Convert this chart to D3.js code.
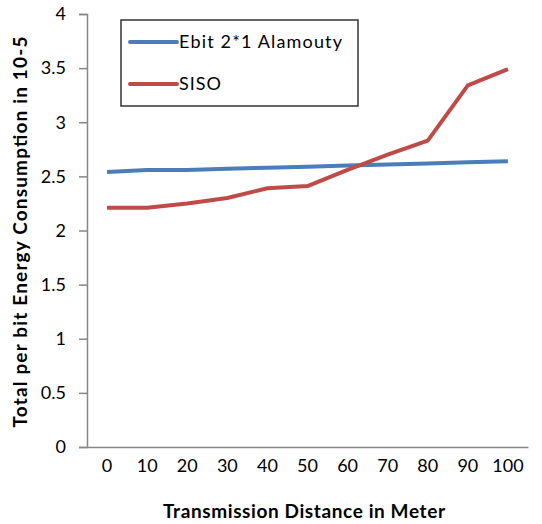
<!DOCTYPE html>
<html>
<head>
<meta charset="utf-8">
<script src="https://cdn.jsdelivr.net/npm/d3@7"></script>
<style>
  body { margin: 0; background: #fff; }
  svg text { font-family: Lato, "Open Sans", sans-serif; fill: #000; }
</style>
</head>
<body>
<svg id="viz" width="542" height="524"></svg>
<script>
// chart data
var distances = ['0', '10', '20', '30', '40', '50', '60', '70', '80', '90', '100'];
var alamoutyVals = [2.54, 2.56, 2.56, 2.57, 2.58, 2.59, 2.60, 2.61, 2.62, 2.63, 2.64];
var sisoVals = [2.21, 2.21, 2.25, 2.30, 2.39, 2.41, 2.56, 2.70, 2.83, 3.34, 3.49];
var yTicks = [0, 0.5, 1, 1.5, 2, 2.5, 3, 3.5, 4];
var seriesNames = ['Ebit 2*1 Alamouty', 'SISO'];
var seriesColors = ['#4a7ebb', '#be4b48'];

var svg = d3.select('#viz');
var plotLeft = 87, plotRight = 528, plotTop = 14, plotBottom = 447;

var x = d3.scaleBand().domain(distances).range([plotLeft, plotRight]);
var y = d3.scaleLinear().domain([0, 4]).range([plotBottom, plotTop]);

// y axis
var yAxis = svg.append('g')
  .attr('transform', 'translate(' + plotLeft + ',0)')
  .call(d3.axisLeft(y).tickValues(yTicks).tickSize(8).tickPadding(13)
    .tickFormat(function (d) { return d; }));
yAxis.selectAll('line, path').attr('stroke', '#868686').attr('stroke-width', 1.5);
yAxis.selectAll('text').style('font-size', '18px');

// x axis, no tick marks
var xAxis = svg.append('g')
  .attr('transform', 'translate(0,' + plotBottom + ')')
  .call(d3.axisBottom(x).tickSize(0).tickPadding(12));
xAxis.select('path').attr('stroke', '#868686').attr('stroke-width', 1.5);
xAxis.selectAll('text').style('font-size', '18px');

var line = d3.line()
  .x(function (d, i) { return x(distances[i]) + x.bandwidth() / 2; })
  .y(function (d) { return y(d); });

[alamoutyVals, sisoVals].forEach(function (vals, k) {
  svg.append('path')
    .datum(vals)
    .attr('d', line)
    .attr('fill', 'none')
    .attr('stroke', seriesColors[k])
    .attr('stroke-width', 4)
    .attr('stroke-linejoin', 'round');
});

// legend
var legend = svg.append('g');
legend.append('rect')
  .attr('x', 121).attr('y', 20)
  .attr('width', 237).attr('height', 86)
  .attr('fill', '#fff').attr('stroke', '#333').attr('stroke-width', 1.5);
var legendWidths = [163, 42];
seriesNames.forEach(function (name, k) {
  var ly = 42 + k * 42;
  legend.append('line')
    .attr('x1', 130).attr('x2', 177)
    .attr('y1', ly).attr('y2', ly)
    .attr('stroke', seriesColors[k]).attr('stroke-width', 4)
    .attr('stroke-linecap', 'round');
  legend.append('text')
    .attr('x', 179).attr('y', ly + 6)
    .attr('textLength', legendWidths[k])
    .style('font-size', '18px')
    .text(name);
});

// axis titles
svg.append('text')
  .attr('x', 304).attr('y', 518)
  .attr('text-anchor', 'middle')
  .attr('textLength', 282)
  .style('font-size', '19px').style('font-weight', 'bold')
  .text('Transmission Distance in Meter');

svg.append('text')
  .attr('transform', 'translate(27,232) rotate(-90)')
  .attr('text-anchor', 'middle')
  .attr('textLength', 391)
  .style('font-size', '19px').style('font-weight', 'bold')
  .text('Total per bit Energy Consumption in 10-5');
</script>
</body>
</html>
